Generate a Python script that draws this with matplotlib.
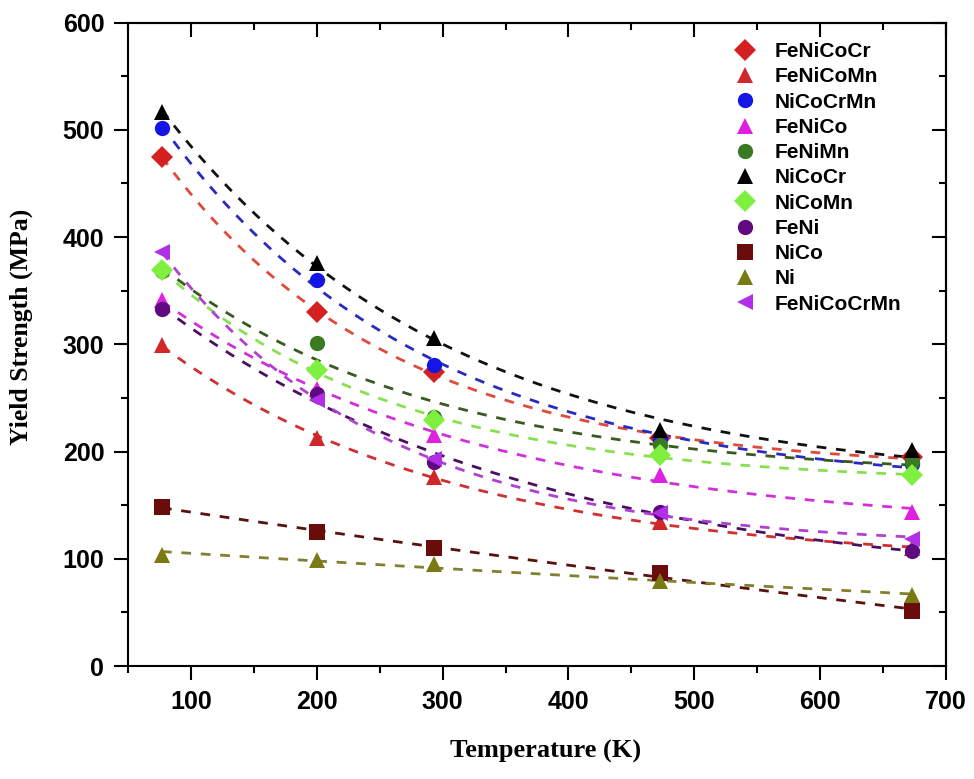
import numpy as np
import matplotlib.pyplot as plt
from matplotlib.ticker import MultipleLocator

# temperatures (K)
temps = [77, 200, 293, 473, 673]

# yield strength (MPa)
feni_co_cr = [475, 330, 274, 213, 195]
feni_co_mn = [299, 213, 176, 134, 110]
nico_cr_mn = [502, 360, 281, 212, 188]
feni_co = [341, 258, 215, 178, 144]
feni_mn = [368, 301, 232, 206, 190]
nico_cr = [517, 376, 306, 220, 201]
nico_mn = [369, 276, 229, 197, 178]
feni = [333, 254, 190, 144, 107]
nico = [148, 125, 110, 87, 51]
ni = [104, 99, 95, 79, 66]
feni_co_cr_mn = [386, 248, 193, 143, 118]

names = ["FeNiCoCr", "FeNiCoMn", "NiCoCrMn", "FeNiCo", "FeNiMn", "NiCoCr",
         "NiCoMn", "FeNi", "NiCo", "Ni", "FeNiCoCrMn"]
values = [feni_co_cr, feni_co_mn, nico_cr_mn, feni_co, feni_mn, nico_cr,
          nico_mn, feni, nico, ni, feni_co_cr_mn]
markers = ["D", "^", "o", "^", "o", "^", "D", "o", "s", "^", "<"]
colors = ["#d42020", "#d02828", "#1515e8", "#e020e0", "#3a7a22", "#000000",
          "#80f040", "#600a80", "#6a0c0c", "#7a7a14", "#b030e8"]
line_colors = ["#e04a3a", "#d03030", "#2a2ac0", "#d030d8", "#3a5a20", "#111111",
               "#88e050", "#4a1060", "#5a1010", "#808030", "#b040d0"]


def fit_curve(x, y, xs):
    # y = A + B*exp(-x/C), C escollit per minims quadrats
    x = np.asarray(x, float)
    y = np.asarray(y, float)
    best = None
    for c in np.linspace(40, 3000, 600):
        m = np.column_stack([np.ones_like(x), np.exp(-x / c)])
        coef, res, _, _ = np.linalg.lstsq(m, y, rcond=None)
        err = np.sum((m @ coef - y) ** 2)
        if best is None or err < best[0]:
            best = (err, c, coef)
    _, c, coef = best
    return coef[0] + coef[1] * np.exp(-xs / c)


plt.rcParams["font.family"] = "Liberation Sans"

fig = plt.figure(figsize=(9.74, 7.79), dpi=100)
ax = fig.add_axes([0.1314, 0.145, 0.8399, 0.826])

xs = np.linspace(temps[0], temps[-1], 200)
for name, y, mk, col, lcol in zip(names, values, markers, colors, line_colors):
    ax.plot(xs, fit_curve(temps, y, xs), color=lcol, lw=2,
            linestyle=(0, (3.5, 3.5)), zorder=2)
    ax.plot(temps, y, linestyle="none", marker=mk, color=col, markersize=11,
            markeredgewidth=0, label=name, zorder=3)

ax.set_xlim(50, 700)
ax.set_ylim(0, 600)
ax.xaxis.set_major_locator(MultipleLocator(100))
ax.xaxis.set_minor_locator(MultipleLocator(50))
ax.yaxis.set_major_locator(MultipleLocator(100))
ax.yaxis.set_minor_locator(MultipleLocator(50))
ax.set_xticks([100, 200, 300, 400, 500, 600, 700])

ax.tick_params(which="both", direction="out", width=1.5, top=False, right=False)
ax.tick_params(which="major", length=10, pad=7, labelsize=18)
ax.tick_params(which="minor", length=5)
for lab in ax.get_xticklabels() + ax.get_yticklabels():
    lab.set_fontweight("bold")

# ticks cap endins a dalt i a la dreta
ax2 = ax.secondary_xaxis("top")
ax2.xaxis.set_major_locator(MultipleLocator(100))
ax2.xaxis.set_minor_locator(MultipleLocator(50))
ax2.tick_params(which="both", direction="in", width=1.5, labeltop=False)
ax2.tick_params(which="major", length=10)
ax2.tick_params(which="minor", length=5)
ax3 = ax.secondary_yaxis("right")
ax3.yaxis.set_major_locator(MultipleLocator(100))
ax3.yaxis.set_minor_locator(MultipleLocator(50))
ax3.tick_params(which="both", direction="in", width=1.5, labelright=False)
ax3.tick_params(which="major", length=10)
ax3.tick_params(which="minor", length=5)

for s in ax.spines.values():
    s.set_linewidth(1.5)
for s in list(ax2.spines.values()) + list(ax3.spines.values()):
    s.set_linewidth(1.5)

ax.set_xlabel("Temperature (K)", fontsize=19, fontweight="bold",
              family="Liberation Serif")
ax.xaxis.set_label_coords(0.51, -0.115)
ax.set_ylabel("Yield Strength (MPa)", fontsize=18.5, fontweight="bold",
              family="Liberation Serif")
ax.yaxis.set_label_coords(-0.116, 0.527)

ax.legend(loc="upper left", bbox_to_anchor=(0.7546, 0.946),
          bbox_transform=fig.transFigure, frameon=False, numpoints=1,
          handlelength=1.0, handletextpad=0.9, labelspacing=0.3,
          borderpad=0, borderaxespad=0,
          prop={"family": "Liberation Sans", "weight": "bold", "size": 15})

fig.savefig("out.png", dpi=100)
